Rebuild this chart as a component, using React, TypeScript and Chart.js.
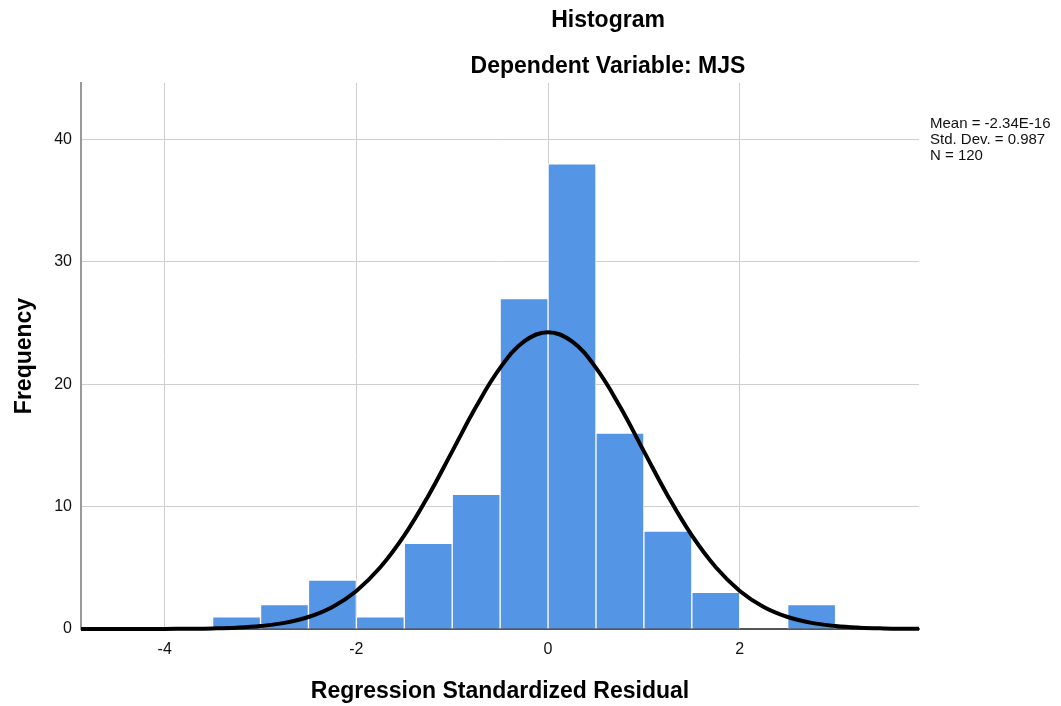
import React, { useEffect, useRef } from "react";
import { Chart, registerables } from "chart.js";

Chart.register(...registerables);

// Histogram bins (centre of each 0.5-wide bin) and frequencies
const binCenters = [-3.25, -2.75, -2.25, -1.75, -1.25, -0.75, -0.25, 0.25, 0.75, 1.25, 1.75, 2.25, 2.75];
const frequencies = [1, 2, 4, 1, 7, 11, 27, 38, 16, 8, 3, 0, 2];

// Normal curve (peak ~24.3 at 0)
const curveX = [-5, -4.75, -4.5, -4.25, -4, -3.75, -3.5, -3.25, -3, -2.75, -2.5, -2.25, -2, -1.75, -1.5, -1.25, -1, -0.75, -0.5, -0.25, 0, 0.25, 0.5, 0.75, 1, 1.25, 1.5, 1.75, 2, 2.25, 2.5, 2.75, 3, 3.25, 3.5, 3.75, 4];
const curveY = [0, 0, 0.001, 0.002, 0.006, 0.018, 0.045, 0.107, 0.24, 0.5, 0.98, 1.8, 3.11, 5.04, 7.64, 10.87, 14.51, 18.17, 21.33, 23.49, 24.25, 23.49, 21.33, 18.17, 14.51, 10.87, 7.64, 5.04, 3.11, 1.8, 0.98, 0.5, 0.24, 0.107, 0.045, 0.018, 0.006];

const xTicks = [-4, -2, 0, 2];
const yTicks = [0, 10, 20, 30, 40];

const titleLines = ["Histogram", "Dependent Variable: MJS"];
const statLines = ["Mean = -2.34E-16", "Std. Dev. = 0.987", "N = 120"];
const xTitle = "Regression Standardized Residual";
const yTitle = "Frequency";

const FONT = 'Arial, "Liberation Sans", sans-serif';

const textPlugin = {
  id: "textPlugin",
  afterDraw(chart: any) {
    const ctx = chart.ctx;
    ctx.save();
    ctx.fillStyle = "#000";
    ctx.textAlign = "center";
    ctx.textBaseline = "middle";
    ctx.font = `bold 23px ${FONT}`;
    ctx.fillText(titleLines[0], 608, 21);
    ctx.fillText(titleLines[1], 608, 67);
    ctx.textAlign = "left";
    ctx.font = `15px ${FONT}`;
    ctx.fillStyle = "#111";
    statLines.forEach((s, i) => ctx.fillText(s, 930, 124 + i * 16));
    ctx.restore();
  },
};

export default function App() {
  const ref = useRef<HTMLCanvasElement | null>(null);
  useEffect(() => {
    if (!ref.current) return;
    const chart = new Chart(ref.current, {
      type: "bar",
      data: {
        datasets: [
          {
            type: "line",
            data: curveX.map((x, i) => ({ x, y: curveY[i] })),
            borderColor: "#000000",
            borderWidth: 4,
            pointRadius: 0,
            tension: 0.4,
            fill: false,
            order: 0,
            clip: { left: 0, right: 0, top: 5, bottom: 5 },
          } as any,
          {
            type: "bar",
            data: binCenters.map((x, i) => ({ x, y: frequencies[i] })),
            backgroundColor: "#5595e6",
            borderColor: "#ffffff",
            borderWidth: 1,
            barPercentage: 1,
            categoryPercentage: 1,
            order: 1,
          } as any,
        ],
      },
      options: {
        animation: false,
        responsive: true,
        maintainAspectRatio: false,
        layout: { padding: { left: 0, right: 142, top: 83, bottom: 0 } },
        plugins: { legend: { display: false }, tooltip: { enabled: false }, title: { display: false } },
        scales: {
          x: {
            type: "linear",
            min: -4.873,
            max: 3.87,
            offset: false,
            afterBuildTicks: (s: any) => {
              s.ticks = xTicks.map((v) => ({ value: v }));
            },
            afterFit: (s: any) => {
              s.height = 77;
            },
            grid: { offset: false, color: "#cfcfcf", lineWidth: 1, drawTicks: false },
            border: { display: true, color: "#555555", width: 2 },
            ticks: { font: { family: FONT, size: 16 }, color: "#111", padding: 11, maxRotation: 0 },
            title: {
              display: true,
              text: xTitle,
              font: { family: FONT, size: 23, weight: "bold" },
              color: "#000",
              padding: { top: 0, bottom: 1 },
            },
          } as any,
          y: {
            type: "linear",
            min: 0,
            max: 44.6,
            afterBuildTicks: (s: any) => {
              s.ticks = yTicks.map((v) => ({ value: v }));
            },
            afterFit: (s: any) => {
              s.width = 81;
            },
            grid: { color: "#cfcfcf", lineWidth: 1, drawTicks: false },
            border: { display: true, color: "#999999", width: 2 },
            ticks: { font: { family: FONT, size: 16 }, color: "#111", padding: 9 },
            title: {
              display: true,
              text: yTitle,
              font: { family: FONT, size: 23, weight: "bold" },
              color: "#000",
              padding: { top: 11, bottom: 0 },
            },
          } as any,
        },
      },
      plugins: [textPlugin],
    });
    return () => chart.destroy();
  }, []);
  return (
    <div style={{ position: "absolute", left: 0, top: 0, width: 1061, height: 706, background: "#fff" }}>
      <canvas ref={ref} />
    </div>
  );
}
